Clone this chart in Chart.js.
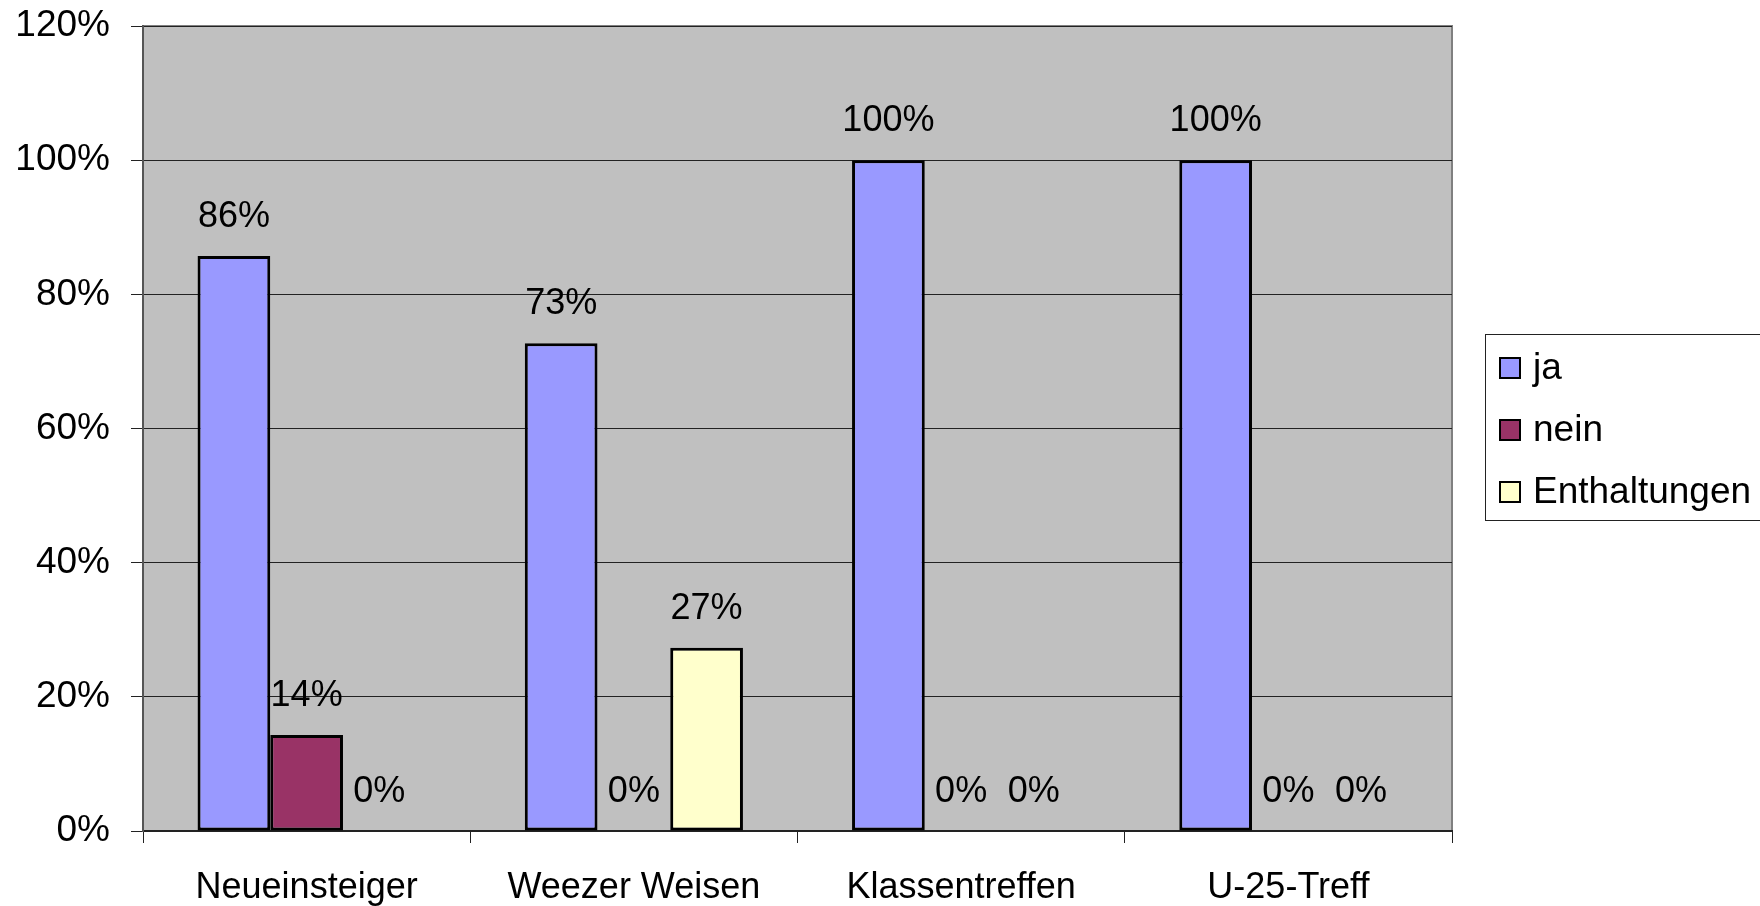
<!DOCTYPE html>
<html>
<head>
<meta charset="utf-8">
<script src="https://cdn.jsdelivr.net/npm/chart.js@4/dist/chart.umd.min.js"></script>
<style>
    html, body { margin: 0; padding: 0; background: #fff; }
    canvas { display: block; }
</style>
</head>
<body>
<canvas id="voteChart" width="1760" height="906"></canvas>
<script>
// Chart data (percent values)
const categories = ['Neueinsteiger', 'Weezer Weisen', 'Klassentreffen', 'U-25-Treff'];
const seriesNames = ['ja', 'nein', 'Enthaltungen'];
const jaValues = [85.7, 72.7, 100, 100];
const neinValues = [14.3, 0, 0, 0];
const enthaltungenValues = [0, 27.3, 0, 0];
const yTicks = [0, 20, 40, 60, 80, 100, 120];

const FONT = "'Liberation Sans', Arial, sans-serif";
const colors = {
    ja: '#9999FF',
    nein: '#993366',
    enthaltungen: '#FFFFCC',
    plot: '#C0C0C0',
    plotBorder: '#808080',
    grid: '#222222'
};

/**
 * Grey plot area with border, drawn before grid and bars
 */
const plotBackground = {
    id: 'plotBackground',
    beforeDraw(chart) {
        const { ctx, chartArea: a } = chart;
        ctx.save();
        ctx.fillStyle = colors.plot;
        ctx.fillRect(a.left, a.top, a.right - a.left, a.bottom - a.top);
        ctx.strokeStyle = colors.plotBorder;
        ctx.lineWidth = 2;
        ctx.strokeRect(a.left, a.top, a.right - a.left, a.bottom - a.top);
        ctx.restore();
    }
};

/**
 * Percent labels above every bar (also for zero values)
 */
const valueLabels = {
    id: 'valueLabels',
    afterDatasetsDraw(chart) {
        const { ctx } = chart;
        ctx.save();
        ctx.font = '36px ' + FONT;
        ctx.fillStyle = '#000';
        ctx.textAlign = 'center';
        ctx.textBaseline = 'alphabetic';
        chart.data.datasets.forEach((ds, i) => {
            const meta = chart.getDatasetMeta(i);
            meta.data.forEach((bar, j) => {
                ctx.fillText(Math.round(ds.data[j]) + '%', bar.x, bar.y - 29);
            });
        });
        ctx.restore();
    }
};

/**
 * Boxed legend on the right side, running off the canvas edge
 */
const boxLegend = {
    id: 'boxLegend',
    afterDraw(chart) {
        const { ctx } = chart;
        const left = 1485, top = 334, bottom = 520;
        ctx.save();
        ctx.fillStyle = '#fff';
        ctx.fillRect(left, top, chart.width - left + 10, bottom - top);
        ctx.strokeStyle = '#222';
        ctx.lineWidth = 1;
        ctx.strokeRect(left + 0.5, top + 0.5, chart.width - left + 10, bottom - top);

        ctx.font = '37px ' + FONT;
        ctx.textAlign = 'left';
        ctx.textBaseline = 'alphabetic';
        chart.data.datasets.forEach((ds, i) => {
            const cy = 368 + i * 62;
            ctx.fillStyle = ds.backgroundColor;
            ctx.fillRect(1500, cy - 10, 20, 20);
            ctx.strokeStyle = '#000';
            ctx.lineWidth = 2;
            ctx.strokeRect(1500, cy - 10, 20, 20);
            ctx.fillStyle = '#000';
            ctx.fillText(ds.label, 1533, cy + 11);
        });
        ctx.restore();
    }
};

const barStyle = {
    borderColor: '#000',
    borderWidth: 3,
    borderSkipped: false,
    categoryPercentage: 2 / 3,
    barPercentage: 1
};

new Chart(document.getElementById('voteChart'), {
    type: 'bar',
    data: {
        labels: categories,
        datasets: [
            { label: seriesNames[0], data: jaValues, backgroundColor: colors.ja, ...barStyle },
            { label: seriesNames[1], data: neinValues, backgroundColor: colors.nein, ...barStyle },
            { label: seriesNames[2], data: enthaltungenValues, backgroundColor: colors.enthaltungen, ...barStyle }
        ]
    },
    options: {
        responsive: false,
        animation: false,
        devicePixelRatio: 1,
        layout: {
            padding: { left: 18, top: 26, right: 308, bottom: 0 }
        },
        plugins: {
            legend: { display: false },
            tooltip: { enabled: false }
        },
        scales: {
            x: {
                grid: {
                    offset: true,
                    drawOnChartArea: false,
                    drawTicks: true,
                    tickLength: 12,
                    color: colors.grid
                },
                border: { color: colors.grid, width: 2 },
                ticks: {
                    color: '#000',
                    padding: 23,
                    font: { family: FONT, size: 36 }
                },
                afterFit(scale) {
                    scale.height = 75;
                    scale.paddingLeft = 0;
                    scale.paddingRight = 0;
                }
            },
            y: {
                min: yTicks[0],
                max: yTicks[yTicks.length - 1],
                ticks: {
                    stepSize: yTicks[1] - yTicks[0],
                    color: '#000',
                    padding: 21,
                    font: { family: FONT, size: 37 },
                    callback: value => value + '%'
                },
                grid: {
                    color: colors.grid,
                    lineWidth: 1,
                    tickLength: 12
                },
                border: { color: '#555', width: 2 },
                afterFit(scale) {
                    scale.width = 125;
                    scale.paddingTop = 0;
                    scale.paddingBottom = 0;
                }
            }
        }
    },
    plugins: [plotBackground, valueLabels, boxLegend]
});
</script>
</body>
</html>
